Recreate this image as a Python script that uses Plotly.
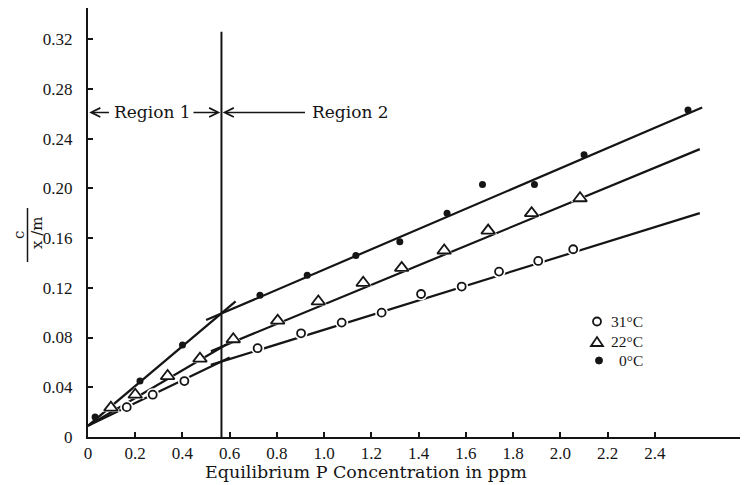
import plotly.graph_objects as go

# ---- data ----
x_31 = [0.164, 0.274, 0.408, 0.718, 0.902, 1.074, 1.243, 1.41, 1.582, 1.74, 1.906, 2.054]
y_31 = [0.024, 0.034, 0.045, 0.0714, 0.0834, 0.092, 0.100, 0.115, 0.121, 0.133, 0.1416, 0.151]

x_22 = [0.097, 0.200, 0.337, 0.474, 0.615, 0.803, 0.975, 1.165, 1.328, 1.508, 1.694, 1.878, 2.083]
y_22 = [0.0236, 0.034, 0.049, 0.063, 0.0786, 0.0936, 0.109, 0.124, 0.136, 0.150, 0.166, 0.180, 0.192]

x_0 = [0.03, 0.22, 0.40, 0.728, 0.928, 1.134, 1.32, 1.52, 1.67, 1.89, 2.10, 2.54]
y_0 = [0.016, 0.045, 0.074, 0.114, 0.130, 0.146, 0.157, 0.180, 0.203, 0.203, 0.227, 0.263]

# fitted lines (endpoints)
fit_0_r1_x, fit_0_r1_y = [0.0, 0.625], [0.009, 0.109]
fit_0_r2_x, fit_0_r2_y = [0.50, 2.60], [0.094, 0.265]
fit_22_r1_x, fit_22_r1_y = [0.0, 0.60], [0.009, 0.076]
fit_22_r2_x, fit_22_r2_y = [0.52, 2.59], [0.069, 0.2315]
fit_31_r1_x, fit_31_r1_y = [0.0, 0.60], [0.009, 0.064]
fit_31_r2_x, fit_31_r2_y = [0.52, 2.59], [0.058, 0.180]

boundary_x = 0.565
boundary_top = 0.326
region_y = 0.261

legend_names = ["31°C", "22°C", "0°C"]

x_ticks = [0, 0.2, 0.4, 0.6, 0.8, 1.0, 1.2, 1.4, 1.6, 1.8, 2.0, 2.2, 2.4]
x_ticktext = ["0", "0.2", "0.4", "0.6", "0.8", "1.0", "1.2", "1.4", "1.6", "1.8", "2.0", "2.2", "2.4"]
y_ticks = [0, 0.04, 0.08, 0.12, 0.16, 0.20, 0.24, 0.28, 0.32]
y_ticktext = ["0", "0.04", "0.08", "0.12", "0.16", "0.20", "0.24", "0.28", "0.32"]

INK = "#151515"
SERIF = "Liberation Serif"
SERIF2 = "DejaVu Serif"

# plot-area geometry helpers (page pixels -> paper fractions)
PX0, PW = 88.0, 660.0
PY0, PH = 437.0, 429.0


def px(sx):
    return (sx - PX0) / PW


def py(sy):
    return (PY0 - sy) / PH


fig = go.Figure()

# lines
for xs, ys in [(fit_0_r1_x, fit_0_r1_y), (fit_0_r2_x, fit_0_r2_y),
               (fit_22_r1_x, fit_22_r1_y), (fit_22_r2_x, fit_22_r2_y),
               (fit_31_r1_x, fit_31_r1_y), (fit_31_r2_x, fit_31_r2_y)]:
    fig.add_trace(go.Scatter(x=xs, y=ys, mode="lines", line=dict(color=INK, width=2.2),
                             showlegend=False, hoverinfo="skip"))

# boundary line
fig.add_trace(go.Scatter(x=[boundary_x, boundary_x], y=[0, boundary_top], mode="lines",
                         line=dict(color=INK, width=2), showlegend=False, hoverinfo="skip"))

# white halos to break the lines around open markers
fig.add_trace(go.Scatter(x=x_31, y=y_31, mode="markers",
                         marker=dict(symbol="circle", size=13, color="white"),
                         showlegend=False, hoverinfo="skip"))
fig.add_trace(go.Scatter(x=x_22, y=y_22, mode="markers",
                         marker=dict(symbol="triangle-up", size=16, color="white"),
                         showlegend=False, hoverinfo="skip"))

# markers
fig.add_trace(go.Scatter(x=x_31, y=y_31, mode="markers", name=legend_names[0], showlegend=False,
                         marker=dict(symbol="circle", size=8, color="white",
                                     line=dict(color=INK, width=1.8))))
fig.add_trace(go.Scatter(x=x_22, y=y_22, mode="markers", name=legend_names[1], showlegend=False,
                         marker=dict(symbol="triangle-up", size=12, color="white",
                                     line=dict(color=INK, width=1.8))))
fig.add_trace(go.Scatter(x=x_0, y=y_0, mode="markers", name=legend_names[2], showlegend=False,
                         marker=dict(symbol="circle", size=7, color=INK)))

annotations = []
# region arrows
arrow_style = dict(showarrow=True, arrowhead=5, arrowsize=1.2, arrowwidth=1.5,
                   arrowcolor=INK, axref="x", ayref="y", xref="x", yref="y", text="")
annotations.append(dict(x=0.005, y=region_y, ax=0.095, ay=region_y, **arrow_style))
annotations.append(dict(x=boundary_x - 0.005, y=region_y, ax=0.44, ay=region_y, **arrow_style))
annotations.append(dict(x=boundary_x + 0.005, y=region_y, ax=0.925, ay=region_y, **arrow_style))
annotations.append(dict(x=0.271, y=region_y, xref="x", yref="y", text="Region 1", showarrow=False,
                        xanchor="center", yanchor="middle",
                        font=dict(family=SERIF2, size=17, color=INK)))
annotations.append(dict(x=0.94, y=region_y, xref="x", yref="y", text="Region 2", showarrow=False,
                        xanchor="left", yanchor="middle",
                        font=dict(family=SERIF2, size=17, color=INK)))
# x axis title
annotations.append(dict(x=px(366), y=py(472), xref="paper", yref="paper",
                        xanchor="center", yanchor="middle",
                        text="Equilibrium P Concentration in ppm", showarrow=False,
                        font=dict(family=SERIF2, size=17.5, color=INK)))
# y axis title as fraction c / (x/m)
annotations.append(dict(x=px(19), y=py(235), xref="paper", yref="paper", text="c", textangle=-90,
                        xanchor="center", yanchor="middle",
                        showarrow=False, font=dict(family=SERIF2, size=15, color=INK)))
annotations.append(dict(x=px(37), y=py(233), xref="paper", yref="paper", text="x /m", textangle=-90,
                        xanchor="center", yanchor="middle",
                        showarrow=False, font=dict(family=SERIF2, size=15, color=INK)))

shapes = [dict(type="line", xref="paper", yref="paper", x0=px(27.5), x1=px(27.5), y0=py(262), y1=py(208),
               line=dict(color=INK, width=1.5))]

# legend (drawn as shapes + text)
leg_y = [321.5, 341.5, 360.5]
for name, sy in zip(legend_names, leg_y):
    annotations.append(dict(x=px(645), y=py(sy), xref="paper", yref="paper", text=name,
                            xanchor="right", yanchor="middle", showarrow=False,
                            font=dict(family=SERIF, size=15.5, color=INK)))
shapes.append(dict(type="circle", xref="paper", yref="paper",
                   x0=px(593), x1=px(601), y0=py(leg_y[0] + 4), y1=py(leg_y[0] - 4),
                   line=dict(color=INK, width=1.8), fillcolor="white"))
tri = "M {:.5f} {:.5f} L {:.5f} {:.5f} L {:.5f} {:.5f} Z".format(
    px(591), py(leg_y[1] + 4.5), px(603), py(leg_y[1] + 4.5), px(597), py(leg_y[1] - 4.5))
shapes.append(dict(type="path", xref="paper", yref="paper", path=tri,
                   line=dict(color=INK, width=1.8), fillcolor="white"))
shapes.append(dict(type="circle", xref="paper", yref="paper",
                   x0=px(595.5), x1=px(602.5), y0=py(leg_y[2] + 3.5), y1=py(leg_y[2] - 3.5),
                   line=dict(color=INK, width=1), fillcolor=INK))

fig.update_layout(
    width=740, height=477,
    margin=dict(l=80, r=0, t=0, b=48),
    paper_bgcolor="white", plot_bgcolor="white",
    annotations=annotations, shapes=shapes,
    showlegend=False,
    xaxis=dict(range=[0, 2.794], tickvals=x_ticks, ticktext=x_ticktext,
               showgrid=False, zeroline=False, showline=True, linecolor=INK, linewidth=2,
               ticks="inside", ticklen=5, tickwidth=1.5, tickcolor=INK,
               tickfont=dict(family=SERIF, size=17, color=INK)),
    yaxis=dict(range=[0, 0.345], tickvals=y_ticks, ticktext=y_ticktext,
               showgrid=False, zeroline=False, showline=True, linecolor=INK, linewidth=2,
               ticks="inside", ticklen=5, tickwidth=1.5, tickcolor=INK,
               ticklabelstandoff=10,
               tickfont=dict(family=SERIF, size=17, color=INK)),
)

fig.write_html("out.html")
